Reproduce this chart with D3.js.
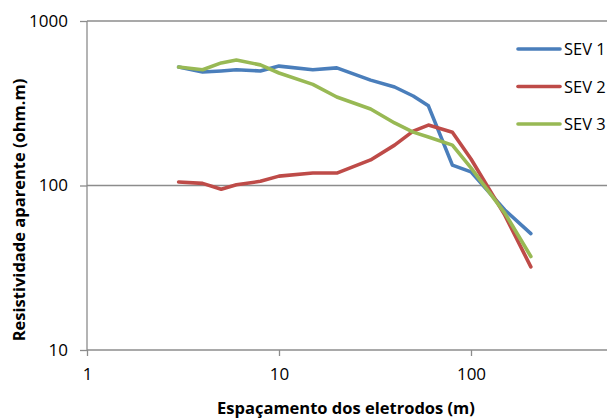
<!DOCTYPE html>
<html>
<head>
<meta charset="utf-8">
<script src="https://cdn.jsdelivr.net/npm/d3@7"></script>
<style>
  body { margin: 0; background: #fff; }
  svg text { font-family: "Open Sans", sans-serif; fill: #000; }
</style>
</head>
<body>
<svg id="chart" width="611" height="418"></svg>
<script>
// electrode spacing (m)
var spacing = [3, 4, 5, 6, 8, 10, 15, 20, 30, 40, 50, 60, 80, 100, 150, 205];

// apparent resistivity (ohm.m)
var sev1 = [525, 490, 497, 505, 497, 532, 505, 519, 437, 397, 350, 305, 133, 121, 71, 51];
var sev2 = [105, 103, 95, 101, 106, 114, 119, 119, 143, 176, 214, 233, 211, 145, 66, 32];
var sev3 = [525, 505, 556, 579, 541, 483, 412, 345, 292, 240, 211, 197, 176, 128, 68, 37];

var seriesNames = ["SEV 1", "SEV 2", "SEV 3"];
var seriesColors = ["#4a7ebb", "#be4b48", "#98b954"];
var xTicks = [1, 10, 100];
var yTicks = [10, 100, 1000];

var series = [sev1, sev2, sev3].map(function (vals, i) {
  return { name: seriesNames[i], color: seriesColors[i],
           values: vals.map(function (v, j) { return { x: spacing[j], y: v }; }) };
});

var plotLeft = 87, plotRight = 607, plotTop = 21, plotBottom = 350;
var decade = 192;

var svg = d3.select("#chart");

var xScale = d3.scaleLog().domain([1, 1000]).range([plotLeft, plotLeft + 3 * decade]);
var yScale = d3.scaleLog().domain([10, 1000]).range([plotBottom, plotTop]);

// gridlines
svg.append("g").selectAll("line")
  .data(yTicks.slice(1))
  .join("line")
    .attr("x1", plotLeft).attr("x2", plotRight)
    .attr("y1", d => yScale(d)).attr("y2", d => yScale(d))
    .attr("stroke", "#8c8c8c").attr("stroke-width", 1.3);

// y axis
var gY = svg.append("g").attr("transform", "translate(" + plotLeft + ",0)")
  .call(d3.axisLeft(yScale).tickValues(yTicks).tickFormat(d3.format("d")).tickSize(7).tickPadding(12));
gY.select(".domain").attr("stroke", "#8c8c8c").attr("stroke-width", 1.3).attr("d", "M0," + plotBottom + "V" + plotTop);
gY.selectAll(".tick line").attr("stroke", "#8c8c8c").attr("stroke-width", 1.3);
gY.selectAll(".tick text").attr("font-size", 17).attr("font-family", "Open Sans").attr("fill", "#000");

// x axis
var gX = svg.append("g").attr("transform", "translate(0," + plotBottom + ")")
  .call(d3.axisBottom(xScale).tickValues(xTicks).tickFormat(d3.format("d")).tickSize(6).tickPadding(12));
gX.select(".domain").attr("stroke", "#8c8c8c").attr("stroke-width", 1.3).attr("d", "M" + plotLeft + ",0H" + plotRight);
gX.selectAll(".tick line").attr("stroke", "#8c8c8c").attr("stroke-width", 1.3);
gX.selectAll(".tick text").attr("font-size", 17).attr("font-family", "Open Sans").attr("fill", "#000");

// lines
var lineGen = d3.line()
  .x(d => xScale(d.x))
  .y(d => yScale(d.y));

svg.append("g").attr("class", "lines")
  .selectAll("path")
  .data(series)
  .join("path")
    .attr("d", d => lineGen(d.values))
    .attr("fill", "none")
    .attr("stroke", d => d.color)
    .attr("stroke-width", 3.6)
    .attr("stroke-linejoin", "round")
    .attr("stroke-linecap", "round");

// legend
var legend = svg.append("g").selectAll("g")
  .data(series)
  .join("g")
    .attr("transform", (d, i) => "translate(518," + (49 + i * 37.5) + ")");
legend.append("line")
  .attr("x1", 0).attr("x2", 42)
  .attr("stroke", d => d.color).attr("stroke-width", 3.6).attr("stroke-linecap", "round");
legend.append("text")
  .attr("x", 46).attr("y", 6)
  .attr("font-size", 16.5)
  .text(d => d.name);

// axis titles
svg.append("text")
  .attr("x", 346).attr("y", 414)
  .attr("text-anchor", "middle")
  .attr("font-size", 16.5).attr("font-weight", "bold")
  .text("Espaçamento  dos eletrodos (m)");

svg.append("text")
  .attr("transform", "translate(25,210) rotate(-90)")
  .attr("text-anchor", "middle")
  .attr("font-size", 16.5).attr("font-weight", "bold")
  .text("Resistividade aparente (ohm.m)");
</script>
</body>
</html>
